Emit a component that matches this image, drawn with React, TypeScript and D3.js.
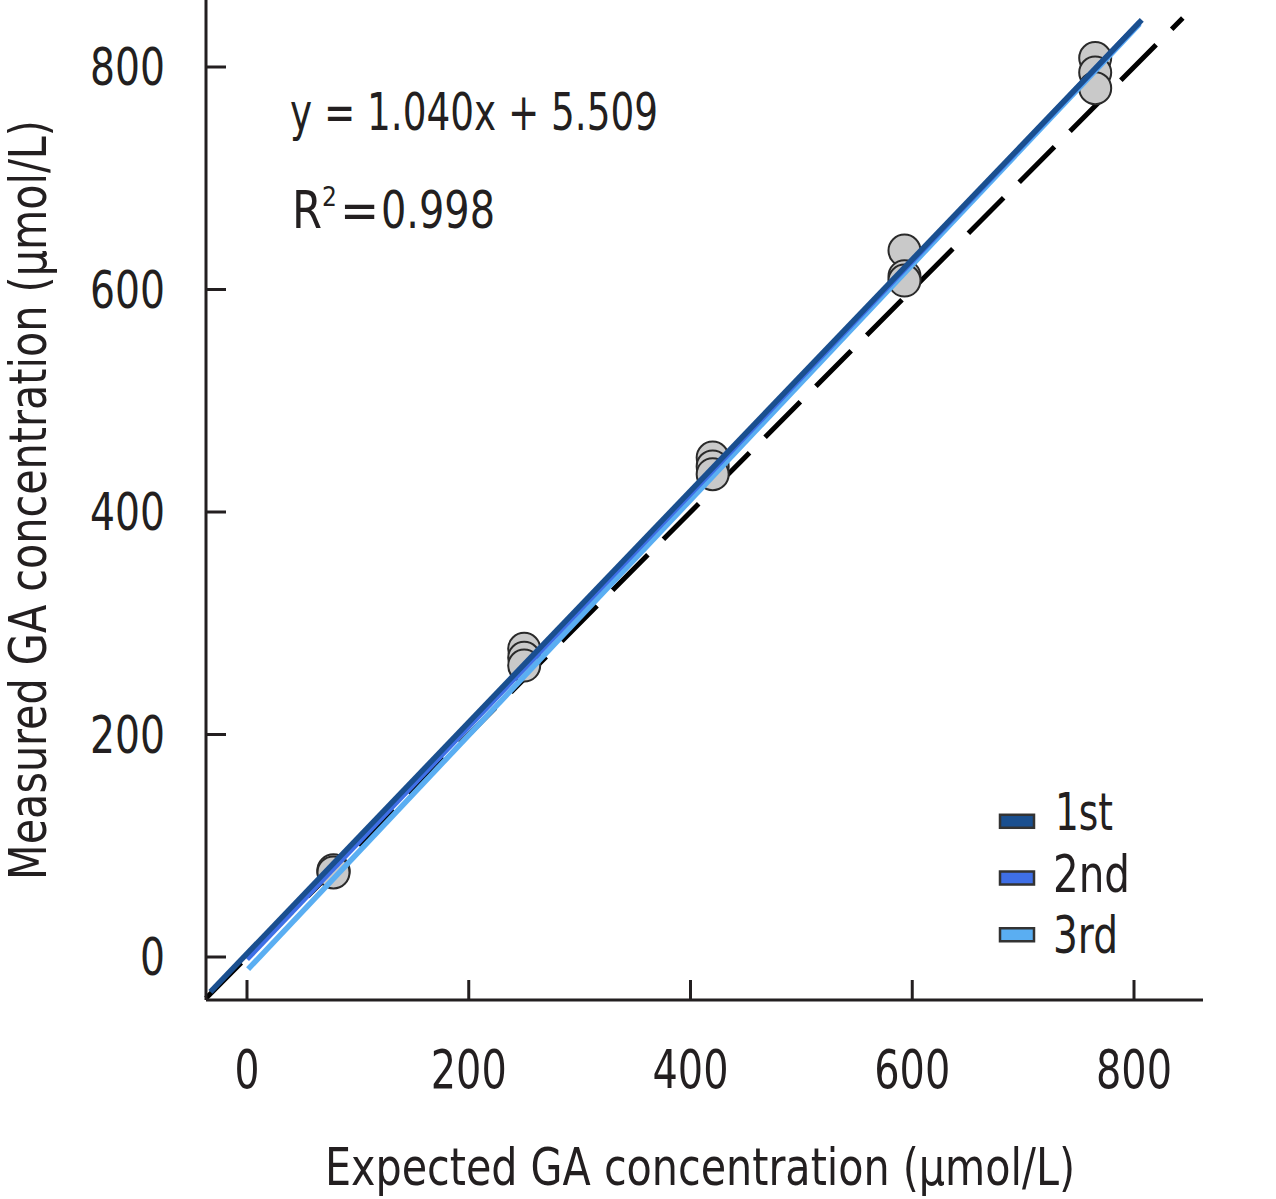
import React from "react";
import * as d3 from "d3";

// ---- data ----
const tickValues = [0, 200, 400, 600, 800];
const expectedLevels = [78, 250, 420, 593, 765];
const measured1st = [77, 277, 449, 635, 808];
const measured2nd = [78, 269, 441, 612, 795];
const measured3rd = [76, 262, 434, 608, 781];
const seriesNames = ["1st", "2nd", "3rd"];
const seriesColors = ["#1a4f8f", "#3f6fe6", "#5aaef2"];
// fitted lines: [slope, intercept, xStart, xEnd]
const fit1st = [1.04, 3, -33, 807];
const fit2nd = [1.046, -2, 0, 805];
const fit3rd = [1.057, -12, 1, 805];
const identityRange = [-37, 844];
const equationText = "y = 1.040x + 5.509";
const r2Value = "0.998";

const FONT = "'Liberation Sans Narrow', 'DejaVu Sans Condensed', 'Liberation Sans', sans-serif";
const INK = "#231f20";

export default function App() {
  const x = d3.scaleLinear().domain([0, 800]).range([247, 1134]);
  const y = d3.scaleLinear().domain([0, 800]).range([957, 67]);
  const xMin = x.invert(206);
  const xMax = x.invert(1203);
  const yMin = y.invert(1000);
  const yMax = y.invert(0);

  const line = d3
    .line<[number, number]>()
    .x((d) => x(d[0]))
    .y((d) => y(d[1]));

  const fits = [fit1st, fit2nd, fit3rd];
  const fitPath = (f: number[]) =>
    line([
      [f[2], f[0] * f[2] + f[1]],
      [f[3], f[0] * f[3] + f[1]],
    ]) as string;

  const points: { ex: number; m: number }[] = [];
  [measured1st, measured2nd, measured3rd].forEach((arr) =>
    arr.forEach((m, i) => points.push({ ex: expectedLevels[i], m }))
  );

  const legendY = [y(122), y(71), y(20)];
  const legendTextDy = [9, 14, 18];

  return (
    <svg
      width={1276}
      height={1199}
      style={{ position: "absolute", left: 0, top: 0, background: "#fff" }}
    >
      {/* identity dashed line */}
      <path
        d={line([
          [identityRange[0], identityRange[0]],
          [identityRange[1], identityRange[1]],
        ]) as string}
        stroke="#000"
        strokeWidth={5}
        strokeDasharray="50 22"
        fill="none"
      />
      {/* points */}
      {points.map((p, i) => (
        <circle
          key={i}
          cx={x(p.ex)}
          cy={y(p.m)}
          r={16}
          fill="#c9c9c9"
          stroke="#2a2a2a"
          strokeWidth={2}
        />
      ))}
      {/* fitted lines: 3rd, 2nd, 1st order */}
      {[2, 1, 0].map((k) => (
        <path
          key={k}
          d={fitPath(fits[k])}
          stroke={seriesColors[k]}
          strokeWidth={5.5}
          fill="none"
        />
      ))}
      {/* axes */}
      <line x1={x(xMin)} x2={x(xMax)} y1={y(yMin)} y2={y(yMin)} stroke={INK} strokeWidth={3} />
      <line x1={x(xMin)} x2={x(xMin)} y1={y(yMin)} y2={y(yMax)} stroke={INK} strokeWidth={3} />
      {tickValues.map((t) => (
        <g key={"x" + t}>
          <line x1={x(t)} x2={x(t)} y1={y(yMin)} y2={y(yMin) - 20} stroke={INK} strokeWidth={3} />
          <text
            x={x(t)}
            y={1088}
            textAnchor="middle"
            fontFamily={FONT}
            fontSize={53}
            fill={INK}
            textLength={t === 0 ? 25 : 76}
            lengthAdjust="spacingAndGlyphs"
          >
            {t}
          </text>
        </g>
      ))}
      {tickValues.map((t) => (
        <g key={"y" + t}>
          <line x1={x(xMin)} x2={x(xMin) + 20} y1={y(t)} y2={y(t)} stroke={INK} strokeWidth={3} />
          <text
            x={165}
            y={y(t) + 18}
            textAnchor="end"
            fontFamily={FONT}
            fontSize={52}
            fill={INK}
            textLength={t === 0 ? 25 : 75}
            lengthAdjust="spacingAndGlyphs"
          >
            {t}
          </text>
        </g>
      ))}
      {/* axis titles */}
      <text
        x={325}
        y={1185}
        fontFamily={FONT}
        fontSize={52}
        fill={INK}
        textLength={750}
        lengthAdjust="spacingAndGlyphs"
      >
        Expected GA concentration (μmol/L)
      </text>
      <text
        transform="translate(46,880) rotate(-90)"
        x={0}
        y={0}
        fontFamily={FONT}
        fontSize={51}
        fill={INK}
        textLength={760}
        lengthAdjust="spacingAndGlyphs"
      >
        Measured GA concentration (μmol/L)
      </text>
      {/* equation */}
      <text
        x={290}
        y={130}
        fontFamily={FONT}
        fontSize={52}
        fill={INK}
        textLength={368}
        lengthAdjust="spacingAndGlyphs"
      >
        {equationText}
      </text>
      <text x={292} y={228} fontFamily={FONT} fontSize={52} fill={INK}>
        <tspan textLength={30} lengthAdjust="spacingAndGlyphs">R</tspan>
        <tspan dy={-22} fontSize={26}>2</tspan>
        <tspan dy={22} x={340}>=</tspan>
        <tspan x={381} textLength={114} lengthAdjust="spacingAndGlyphs">
          {r2Value}
        </tspan>
      </text>
      {/* legend */}
      {seriesNames.map((s, i) => (
        <g key={s}>
          <rect
            x={1000}
            y={legendY[i] - 6.5}
            width={34}
            height={13}
            fill={seriesColors[i]}
            stroke="#333"
            strokeWidth={2.5}
          />
          <text
            x={i === 0 ? 1055 : 1053}
            y={legendY[i] + legendTextDy[i]}
            fontFamily={FONT}
            fontSize={52}
            fill={INK}
            textLength={i === 0 ? 58 : i === 1 ? 77 : 65}
            lengthAdjust="spacingAndGlyphs"
          >
            {s}
          </text>
        </g>
      ))}
    </svg>
  );
}
